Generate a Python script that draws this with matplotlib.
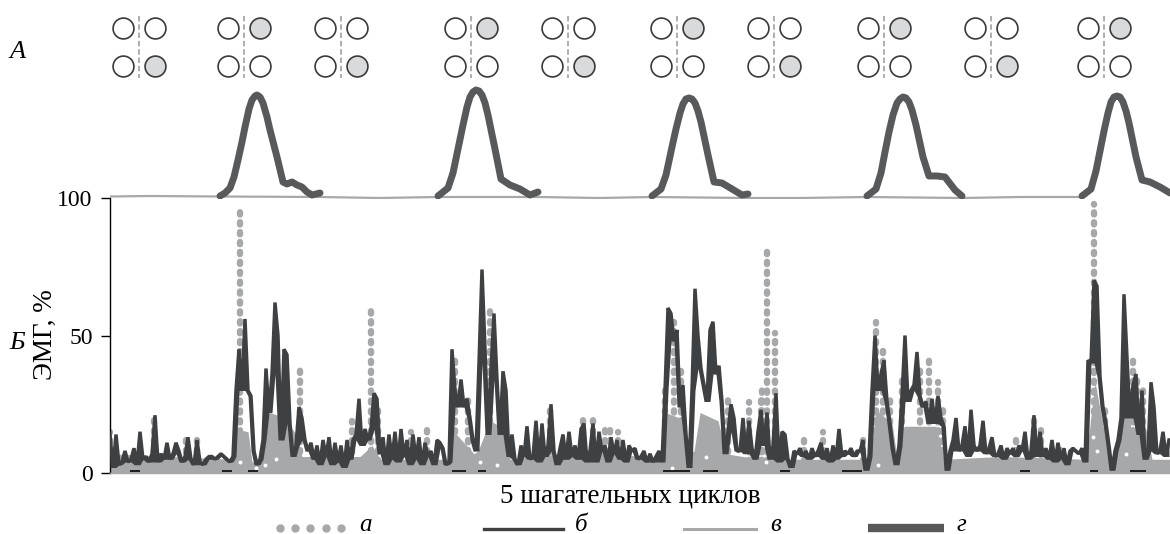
import matplotlib
matplotlib.use("Agg")
import matplotlib.pyplot as plt
import numpy as np

plt.rcParams['font.family'] = ['Liberation Serif', 'DejaVu Serif']

DARK = "#3f4042"
GAIT = "#58595b"
GREY = "#a7a8aa"

# EMG, dark line (b): one value every 3 samples, one row = 30 samples, first row starts at 110
emg_b = [
    14, 2, 14, 3, 4, 8, 4, 5, 9, 3,
    15, 5, 6, 4, 7, 21, 4, 7, 5, 11,
    5, 7, 11, 8, 4, 6, 13, 5, 3, 12,
    4, 3, 5, 6, 6, 5, 6, 7, 6, 5,
    4, 6, 30, 45, 30, 56, 30, 28, 8, 3,
    5, 12, 38, 22, 36, 62, 50, 12, 45, 43,
    18, 6, 10, 24, 20, 12, 8, 11, 5, 10,
    3, 12, 6, 13, 3, 11, 4, 10, 2, 12,
    5, 12, 14, 27, 10, 16, 12, 16, 29, 27,
    7, 13, 3, 14, 5, 15, 4, 16, 6, 12,
    3, 14, 5, 13, 3, 11, 6, 8, 3, 12,
    11, 9, 3, 4, 45, 30, 24, 34, 24, 27,
    20, 12, 8, 40, 74, 45, 14, 38, 58, 34,
    14, 37, 30, 6, 14, 5, 3, 10, 6, 17,
    5, 6, 19, 4, 18, 6, 10, 25, 8, 3,
    9, 14, 5, 15, 6, 10, 5, 16, 18, 4,
    8, 18, 4, 15, 8, 10, 4, 13, 7, 12,
    5, 12, 4, 10, 8, 9, 5, 6, 8, 4,
    7, 4, 6, 8, 4, 30, 60, 58, 48, 52,
    24, 32, 14, 2, 30, 67, 50, 38, 32, 26,
    52, 55, 36, 39, 26, 7, 15, 25, 20, 8,
    8, 20, 7, 19, 9, 5, 15, 23, 10, 22,
    5, 10, 29, 4, 15, 14, 5, 2, 8, 7,
    9, 6, 8, 5, 9, 6, 8, 11, 5, 9,
    4, 10, 5, 16, 6, 8, 7, 9, 6, 8,
    8, 12, 1, 6, 30, 50, 30, 36, 41, 26,
    18, 9, 3, 10, 28, 50, 26, 30, 32, 44,
    28, 24, 26, 18, 27, 18, 28, 20, 17, 1,
    8, 12, 20, 8, 10, 17, 6, 23, 10, 8,
    10, 19, 7, 9, 13, 6, 7, 10, 5, 9,
    7, 9, 6, 10, 8, 15, 5, 8, 21, 6,
    15, 6, 9, 5, 12, 4, 11, 5, 9, 3,
    8, 9, 8, 7, 9, 4, 41, 40, 70, 68,
    35, 24, 18, 10, 1, 8, 12, 20, 65, 42,
    20, 32, 36, 14, 30, 5, 8, 33, 24, 7,
    8, 15, 6, 12,
]

# EMG, grey series (v), upper edge of the dense band
emg_v_x = [110, 232, 236, 248, 252, 260, 264, 270, 285, 296, 302, 360, 372, 380, 450, 454,
           474, 478, 490, 505, 510, 560, 600, 660, 665, 680, 690, 694, 700, 718, 726, 760,
           870, 876, 892, 898, 904, 936, 944, 1000, 1086, 1095, 1108, 1116, 1124, 1132, 1146, 1152, 1170]
emg_v_y = [7, 5, 16, 15, 4, 5, 20, 22, 20, 14, 6, 6, 10, 5, 5, 15,
           7, 8, 19, 16, 5, 7, 9, 4, 22, 20, 7, 8, 22, 19, 7, 5,
           5, 23, 18, 3, 17, 17, 5, 6, 5, 33, 8, 4, 32, 14, 16, 5, 5]

# EMG, dotted series (a): spike position and height
emg_a_x = [110, 154, 186, 197, 240, 300, 352, 371, 378, 411, 427, 455, 468, 490, 550,
           583, 593, 605, 610, 618, 665, 674, 681, 728, 749, 761, 762, 767, 775, 804,
           823, 863, 876, 883, 890, 902, 920, 929, 938, 943, 1016, 1034, 1041, 1060,
           1094, 1105, 1133, 1137, 1143]
emg_a_y = [15, 22, 14, 14, 97, 39, 19, 61, 25, 15, 17, 41, 27, 59, 25,
           20, 20, 17, 17, 15, 32, 55, 37, 29, 26, 27, 31, 81, 51, 13,
           15, 14, 55, 47, 28, 35, 38, 41, 33, 23, 12, 22, 18, 10,
           98, 25, 42, 35, 31]

# black pieces of series b lying on the zero line
zero_start = [130, 222, 248, 452, 478, 663, 703, 780, 842, 1020, 1090, 1130]
zero_end = [140, 232, 258, 466, 486, 690, 718, 790, 862, 1030, 1098, 1146]

# white gaps inside the grey band
gap_x = [240, 256, 265, 276, 480, 497, 672, 706, 766, 878, 1093, 1097, 1126]
gap_y = [4, 2, 3, 5, 4, 3, 2, 6, 4, 3, 13, 8, 7]

# top curve, swing phases
gait_x = [
    [220, 225, 230, 234, 238, 242, 245, 249, 252, 255, 257, 260, 263, 267, 270, 277, 283, 287, 292, 297, 302, 307, 312, 320],
    [438, 448, 453, 458, 463, 467, 470, 473, 476, 479, 482, 485, 488, 495, 501, 510, 520, 530, 538],
    [652, 661, 666, 672, 676, 680, 683, 686, 689, 692, 695, 698, 701, 708, 714, 722, 732, 742, 748],
    [867, 876, 881, 885, 889, 893, 897, 900, 903, 906, 909, 912, 916, 923, 929, 937, 945, 955, 962],
    [1082, 1091, 1096, 1100, 1104, 1108, 1111, 1114, 1117, 1120, 1123, 1126, 1129, 1136, 1142, 1150, 1160, 1170],
]
gait_y = [
    [1, 4, 9, 20, 37, 55, 70, 88, 97, 101, 102, 100, 94, 80, 67, 40, 15, 13, 15, 12, 10, 5, 2, 4],
    [1, 9, 24, 48, 72, 90, 100, 105, 107, 106, 102, 94, 82, 48, 18, 12, 8, 2, 5],
    [1, 8, 22, 50, 68, 84, 93, 98, 99, 98, 94, 86, 75, 42, 15, 14, 8, 2, 3],
    [1, 8, 24, 45, 65, 82, 94, 98, 100, 99, 95, 87, 72, 40, 21, 21, 20, 7, 1],
    [1, 8, 26, 46, 66, 84, 95, 100, 101, 100, 95, 86, 74, 40, 17, 15, 10, 4],
]
base_x = [110, 150, 220, 320, 380, 438, 538, 600, 652, 748, 800, 867, 962, 1020, 1082]
base_y = [0.5, 1, 0.5, 0, -1, 0, 0, -1, 0, -1, -1, 0, -1, 0, 0]

# stick figures above the curve
icon_x = [139, 244, 341, 471, 568, 677, 774, 884, 991, 1104]
icon_top = [0, 1, 0, 1, 0, 1, 0, 1, 0, 1]
icon_bot = [1, 0, 1, 0, 1, 0, 1, 0, 1, 0]

yticks = [0, 50, 100]
letters = ["а", "б", "в", "г"]

fig = plt.figure(figsize=(11.7, 5.34), dpi=100)
W, H = 1170, 534

ax = fig.add_axes([110 / W, (H - 473) / H, 1060 / W, 275 / H])
ax.set_xlim(110, 1170)
ax.set_ylim(0, 100)
ax.spines[['top', 'right']].set_visible(False)
ax.spines['left'].set_linewidth(1.0)
ax.spines['bottom'].set_linewidth(1.0)
ax.spines['bottom'].set_color(GREY)
ax.set_xticks([])
ax.set_yticks(yticks)
ax.tick_params(axis='y', length=6.5, width=1.0, pad=6, labelsize=17)

b_x = 110 + 3 * np.arange(len(emg_b))
b_y = np.array(emg_b)
# the trace oscillates faster than the picture resolves: fill down to the nearby troughs
b_low = np.minimum(np.minimum(b_y, np.roll(b_y, 1)), np.roll(b_y, -1))
ax.fill_between(emg_v_x, 0, emg_v_y, color=GREY, lw=0, zorder=2)
ax.vlines(emg_a_x, 0.5, emg_a_y, colors=GREY, linewidth=4.6,
          linestyles=[(0, (0.35, 1.2))], capstyle='round', zorder=1)
ax.plot(gap_x, gap_y, ls='none', marker='o', ms=1.8, color='white', zorder=2.5)
ax.fill_between(b_x, b_low, b_y, color=DARK, lw=0, zorder=3)
ax.plot(b_x, b_y, color=DARK, lw=2.5, zorder=3, solid_joinstyle='bevel')
ax.hlines(np.full(len(zero_start), 0.6), zero_start, zero_end, colors="#111111", lw=1.3, zorder=4)

top = fig.add_axes([110 / W, (H - 199) / H, 1060 / W, 114 / H])
top.set_xlim(110, 1170)
top.set_ylim(-2, 112)
top.axis('off')
top.plot(base_x, base_y, color=GREY, lw=1.6)
for gx, gy in zip(gait_x, gait_y):
    top.plot(gx, gy, color=GAIT, lw=5.0, solid_capstyle='round', solid_joinstyle='round')

# overlay in image pixels for the icons, legend and labels
over = fig.add_axes([0, 0, 1, 1])
over.set_xlim(0, W)
over.set_ylim(H, 0)
over.axis('off')
over.patch.set_alpha(0)

for cx, t, b in zip(icon_x, icon_top, icon_bot):
    over.plot([cx, cx], [16, 78], color=GREY, lw=1.3, ls=(0, (3, 1.6)))
    for dx, dy, state in [(-16, 28, 0), (16, 28, t), (-16, 66, 0), (16, 66, b)]:
        over.scatter(cx + dx, dy, s=225, facecolor="#d9dadb" if state else "white",
                     edgecolor="#3a3a3a", linewidth=1.2, zorder=3)

over.text(18, 52, "А", fontsize=19, style='italic', ha='center', va='center')
over.text(17, 343, "Б", fontsize=19, style='italic', ha='center', va='center')
over.text(45, 335, "ЭМГ, %", fontsize=19.5, rotation=90, ha='center', va='center')
over.text(630, 496, "5 шагательных циклов", fontsize=19.5, ha='center', va='center')

over.plot([280, 295, 310, 326, 341], [528] * 5, ls='none', marker='o', ms=5, color=GREY)
over.plot([484, 563], [529, 529], color=DARK, lw=2.4)
over.plot([684, 756], [529, 529], color=GREY, lw=2.2)
over.plot([868, 944], [528, 528], color=GAIT, lw=6, solid_capstyle='butt')
for lx, s in zip([365, 581, 776, 961], letters):
    over.text(lx, 531, s, fontsize=18, style='italic', ha='center', va='baseline')

fig.savefig("out.png", dpi=100)
